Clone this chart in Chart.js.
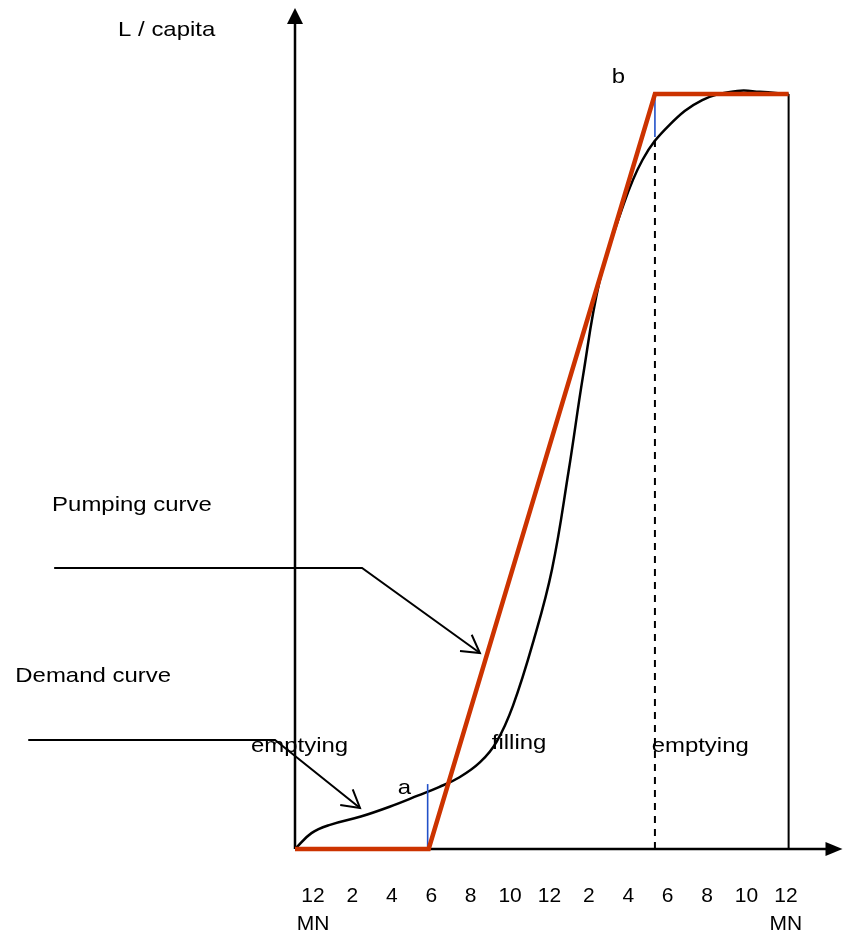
<!DOCTYPE html>
<html><head><meta charset="utf-8">
<script src="https://cdn.jsdelivr.net/npm/chart.js@4.4.1/dist/chart.umd.min.js"></script>
<style>html,body{margin:0;padding:0;background:#fff;}canvas{display:block;}</style>
</head><body>
<canvas id="c" width="847" height="938"></canvas>
<script>
// ---- data (hours of day, L / capita in arbitrary units, plateau = 100) ----
const demandHours  = [0, 0.8, 1.7, 3.2, 4.6, 6.0, 7.0, 8.0, 9.0, 9.8, 10.6, 11.6, 12.5, 13.3, 14.0, 14.8, 15.8, 16.9, 18.2, 19.8, 21.5, 22.6, 24];
const demandValues = [0, 2.1, 3.2, 4.3, 5.6, 7.1, 8.2, 9.5, 11.5, 14.2, 19.0, 27.6, 37.1, 50.0, 62.6, 75.1, 84.0, 91.3, 95.9, 99.2, 100.4, 100.3, 100];
const pumpHours  = [0, 6.5, 17.5, 24];
const pumpValues = [0, 0, 100, 100];
const markAHours  = [6.45, 6.45];
const markAValues = [0, 8.6];
const markBHours  = [17.5, 17.5];
const markBValues = [94.3, 100];
const dashHours   = [17.5, 17.5];
const dashValues  = [0, 94.3];
const closeHours  = [24, 24];
const closeValues = [0, 100];
// callouts listed from arrow tip back to the label end
const pumpCalloutHours    = [8.99, 3.26, -11.71];
const pumpCalloutValues   = [25.96, 37.22, 37.22];
const demandCalloutHours  = [3.16, -0.97, -12.97];
const demandCalloutValues = [5.43, 14.44, 14.44];
const tickHours  = [0, 2, 4, 6, 8, 10, 12, 14, 16, 18, 20, 22, 24];
const tickLabels = [['12', 'MN'], '2', '4', '6', '8', '10', '12', '2', '4', '6', '8', '10', ['12', 'MN']];
const noteTexts  = ['L / capita', 'b', 'Pumping curve', 'Demand curve', 'emptying', 'filling', 'emptying', 'a'];
const noteHours  = [-8.60, 15.40, -11.81, -13.60, -2.14, 9.57, 17.34, 5.00];
const noteValues = [107.68, 101.46, 44.77, 22.12, 12.85, 13.25, 12.85, 7.28];

const xy = (xs, ys) => xs.map((x, i) => ({x: x, y: ys[i]}));
const FONT = '"Liberation Sans", Arial, Helvetica, sans-serif';

function line(data, color, width, order, extra) {
  return Object.assign({type: 'line', data: data, borderColor: color, borderWidth: width,
    pointRadius: 0, fill: false, tension: 0, clip: false, order: order}, extra || {});
}

const decor = {
  id: 'decor',
  beforeDatasetsDraw(chart) {
    const ctx = chart.ctx, x = chart.scales.x, y = chart.scales.y;
    const ox = x.getPixelForValue(0), oy = y.getPixelForValue(0);
    const top = chart.chartArea.top, right = chart.chartArea.right;
    ctx.save();
    ctx.strokeStyle = '#000'; ctx.fillStyle = '#000'; ctx.lineWidth = 2.5;
    ctx.beginPath(); ctx.moveTo(ox, oy); ctx.lineTo(ox, top + 14); ctx.stroke();
    ctx.beginPath(); ctx.moveTo(ox, top); ctx.lineTo(ox - 8, top + 16); ctx.lineTo(ox + 8, top + 16); ctx.closePath(); ctx.fill();
    ctx.beginPath(); ctx.moveTo(ox, oy); ctx.lineTo(right - 14, oy); ctx.stroke();
    ctx.beginPath(); ctx.moveTo(right, oy); ctx.lineTo(right - 17, oy - 7); ctx.lineTo(right - 17, oy + 7); ctx.closePath(); ctx.fill();
    ctx.restore();
  },
  afterDatasetsDraw(chart) {
    const ctx = chart.ctx, x = chart.scales.x, y = chart.scales.y;
    ctx.save();
    // open arrowheads at the tips of the callouts
    [[pumpCalloutHours, pumpCalloutValues], [demandCalloutHours, demandCalloutValues]].forEach(([hs, vs]) => {
      const tx = x.getPixelForValue(hs[0]), ty = y.getPixelForValue(vs[0]);
      const px = x.getPixelForValue(hs[1]), py = y.getPixelForValue(vs[1]);
      const ang = Math.atan2(py - ty, px - tx);
      const L = 20, spread = Math.PI / 6;
      ctx.strokeStyle = '#000'; ctx.lineWidth = 2;
      ctx.beginPath();
      ctx.moveTo(tx + L * Math.cos(ang + spread), ty + L * Math.sin(ang + spread));
      ctx.lineTo(tx, ty);
      ctx.lineTo(tx + L * Math.cos(ang - spread), ty + L * Math.sin(ang - spread));
      ctx.stroke();
    });
    // text annotations
    ctx.fillStyle = '#000';
    ctx.font = '21px ' + FONT;
    ctx.textAlign = 'left'; ctx.textBaseline = 'alphabetic';
    noteTexts.forEach((t, i) => {
      ctx.save();
      ctx.translate(x.getPixelForValue(noteHours[i]), y.getPixelForValue(noteValues[i]));
      ctx.scale(1.14, 1);
      ctx.fillText(t, 0, 0);
      ctx.restore();
    });
    ctx.restore();
  }
};

new Chart(document.getElementById('c'), {
  data: {
    datasets: [
      line(xy(pumpHours, pumpValues), '#cc3300', 4.5, 0),
      line(xy(demandHours, demandValues), '#000000', 2.5, 2, {tension: 0.4}),
      line(xy(markAHours, markAValues), '#2250c8', 1.6, 1),
      line(xy(markBHours, markBValues), '#2250c8', 1.6, 1),
      line(xy(dashHours, dashValues), '#000000', 2, 3, {borderDash: [7, 6]}),
      line(xy(closeHours, closeValues), '#000000', 2, 3),
      line(xy(pumpCalloutHours, pumpCalloutValues), '#000000', 2, 4),
      line(xy(demandCalloutHours, demandCalloutValues), '#000000', 2, 4)
    ]
  },
  options: {
    responsive: false,
    animation: false,
    devicePixelRatio: 1,
    layout: {padding: {left: 295, right: 4.5, top: 8, bottom: 0}},
    plugins: {legend: {display: false}, tooltip: {enabled: false}},
    scales: {
      x: {type: 'linear', min: 0, max: 26.62, display: false},
      y: {type: 'linear', min: 0, max: 111.4, display: false},
      xl: {
        type: 'linear', position: 'bottom', min: -0.913, max: 26.87,
        grid: {display: false, drawTicks: false},
        border: {display: false},
        afterBuildTicks: s => { s.ticks = tickHours.map(v => ({value: v})); },
        afterFit: s => { s.height = 89; },
        ticks: {
          autoSkip: false, maxRotation: 0, minRotation: 0, padding: 33,
          color: '#000',
          font: {family: FONT, size: 21, lineHeight: 1.33},
          callback: (v) => { const i = tickHours.indexOf(v); return i >= 0 ? tickLabels[i] : ''; }
        }
      }
    }
  },
  plugins: [decor]
});
</script>
</body></html>
